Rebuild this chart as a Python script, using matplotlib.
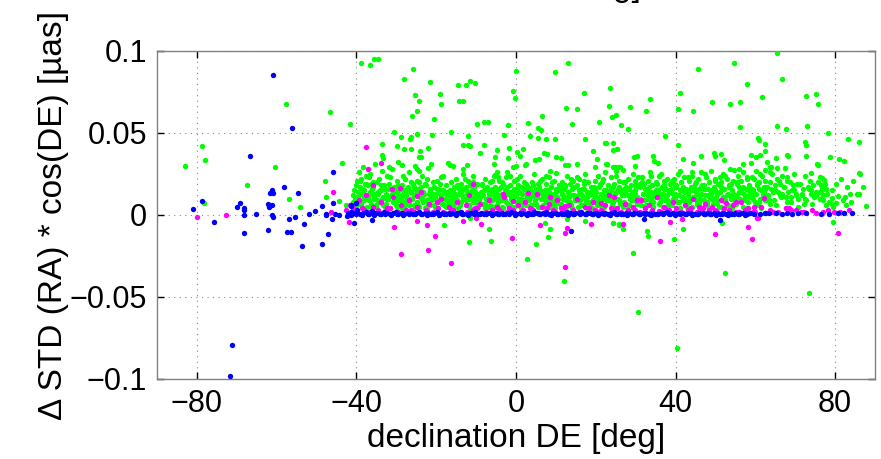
import matplotlib
matplotlib.use("Agg")
import matplotlib.pyplot as plt
import numpy as np

plt.rcParams['font.family'] = ['Liberation Sans', 'DejaVu Sans']

# ---------------- data (declination [deg], value [uas]) ----------------
green_sparse_dec = [-38.8,-36.7,-35.5,-34.5,-57.7,-46.6,-41.6,-78.6,-78,-83.1,-60.5,-43.7,-67.4,-47.8,-47.7,-57,-54.25,-78.3,-44.25,-42.5,
    -25.7,-28.2,-21.5,-25.25,-24.2,-19,-18.8,-14.6,-12.5,-11.5,-10.3,-14.3,-13.25,-24.8,-26.1,-20.6,0.1,-0.7,-0.25,-9.7,
    -7.9,-7,-2.1,3.1,6.4,5.5,6.2,9.75,13,17.1,12.5,15.3,14.1,23.6,23.4,24,25,20.9,
    -30.6,-16.3,-24.9,-28.8,-26.4,-26.5,-21.1,-12,-3,3.6,5.5,7.4,9.8,17.25,22.5,24.3,-29.8,-28,-26.2,-22.1,
    -24.1,-24.3,-23.75,-13.25,-12,-11.5,-8.1,-8.9,-4.75,-1.7,-5.2,-2.1,0.3,1.7,0.9,2.4,2.2,4.75,5.8,6.9,
    7.7,10,11.2,8.4,12.25,13,10,15.25,19.3,20.2,19.7,22.6,24.3,25.5,25.3,-17.1,-16.5,-15.75,-13.3,-12.25,
    -21.3,-22.1,-25.3,-24.9,-29.5,-28.7,-33.7,-33.7,-33.3,-31.8,-5.4,-0.7,-0.1,-5.25,-4.6,-2.3,-1.4,
    26.3,28.5,28.2,33.5,32.7,37.4,22.4,24.3,25.4,29.7,30.4,29.8,34.4,35.7,34.6,24.7,26.1,26.8,22.7,45.7,
    41,40.7,44.3,49.2,40.7,41.8,44.4,46.4,49.75,49.8,51.3,52.25,54.7,57.9,53.75,56.25,61.6,65.5,66.75,56.2,
    65.4,67.75,72.8,75.1,75.7,73,78.2,83.2,86.1,60.75,60.9,62.4,60.1,61.25,58.9,62.4,65.3,67.9,68.1,62.9,
    58.9,57,55.8,54.7,63.75,65.5,72.5,72.75,72.7,75.75,78.75,81,82.25,86.2,86.9,87.75,73.9,80.6,82.4,83.75,
    85.5,82.7,79.1,79.1,76.4,76.7,44.2,62.5,63.9,63.7,67.5,75.4,76.8,77.25,86.1,79.5,79.3,80.2,77.7,
    24.2,25.8,26.9,32.8,33.2,29.3,30.5,39.7,40.25,41.9,51.7,52.5,73.5,79.4,-18,-11.75,-11.5,-6.8,-6.2,2.75,
    5.1,7.25,8.6,7.9,12.1,12.7,17.4,24.25,25.7]
green_sparse_val = [.0929,.0913,.095,.095,.0677,.0628,.0557,.0423,.0335,.0297,.0293,.032,.0185,.021,.0112,.0098,.0047,.0075,.0083,.0061,
    .0892,.0829,.0813,.0734,.0697,.074,.0677,.0791,.0793,.0819,.0803,.0697,.0697,.0634,.0602,.0583,.088,.0754,.0713,.0555,
    .0567,.0567,.0547,.0563,.0605,.0528,.0518,.087,.0925,.0746,.065,.0646,.0553,.0774,.0663,.06,.0612,.0565,
    .0508,.0508,.0496,.0474,.0474,.0462,.0486,.0482,.0488,.0482,.0468,.0462,.0463,.0462,.0439,.0439,.0423,.0402,.0404,.041,
    .0392,.0354,.0354,.0425,.0427,.0421,.0427,.038,.0394,.041,.0354,.0346,.0384,.0404,.0358,.0313,.0305,.0335,.0341,.0378,
    .0374,.0352,.0349,.0268,.0305,.0305,.0258,.0311,.0388,.0343,.0295,.0309,.0295,.0295,.0404,.0315,.0307,.0297,.0279,.0303,
    .0311,.0285,.0297,.0279,.0321,.0307,.0431,.0366,.0346,.0293,.0313,.0293,.0297,.0246,.0232,.026,.024,
    .0551,.0659,.0524,.0709,.0636,.048,.0441,.0394,.04,.0356,.036,.0297,.0358,.0315,.0329,.0291,.0291,.0276,.0309,.0892,
    .0744,.0644,.0636,.0687,.0427,.0341,.0315,.0362,.038,.0358,.0374,.0335,.0929,.0797,.0679,.0691,.0721,.0988,.0829,.0538,
    .0541,.0526,.0727,.0736,.0679,.0541,.0498,.0462,.0447,.047,.0455,.0431,.0354,.0364,.0368,.0392,.0346,.0366,.0358,.0321,
    .0319,.0309,.0279,.0274,.0295,.0287,.0443,.0425,.0358,.0305,.0352,.034,.0327,.025,.0169,.0057,.0258,.0118,.0112,.0126,
    .0126,.0063,.015,.0067,.0183,.015,.0264,.0274,.029,.0264,.0289,.0309,.0224,.0213,.0254,.0049,.0106,.0071,.0061,
    -.0047,-.0059,-.0085,-.0099,-.0126,-.023,-.0591,-.0148,-.0809,-.0085,-.0051,-.0352,-.0478,-.0045,-.0061,-.0166,-.002,-.0085,-.0157,-.0268,
    -.0175,-.0047,-.0085,-.0132,-.04,-.0026,-.0039,-.0051,-.0057]

green_band_dec = [
    -40.8,-40.5,-40.2,-39.9,-39.7,-39.4,-39.1,-38.9,-38.6,-38.4,-38.1,-37.9,-37.6,-37.3,-40.3,-39.5,-38.8,-38.2,-37.5,-37.2,
    -36.9,-36.6,-36.3,-36.1,-35.8,-35.5,-35.3,-35.0,-34.7,-34.4,-34.2,-33.9,-33.6,-33.3,-36.4,-35.6,-34.9,-34.0,-33.4,-36.8,
    -32.9,-32.6,-32.3,-32.1,-31.8,-31.5,-31.2,-31.0,-30.7,-30.4,-30.1,-29.9,-29.6,-29.3,-32.4,-31.6,-30.8,-30.0,-29.5,-32.8,
    -28.9,-28.6,-28.3,-28.0,-27.8,-27.5,-27.2,-27.0,-26.7,-26.4,-26.1,-25.9,-25.6,-25.3,-28.4,-27.6,-26.9,-26.2,-25.5,-28.8,
    -24.9,-24.6,-24.3,-24.1,-23.8,-23.5,-23.3,-23.0,-22.7,-22.4,-22.2,-21.9,-21.6,-21.3,-24.4,-23.7,-22.9,-22.1,-21.5,-24.8,
    -20.9,-20.6,-20.4,-20.1,-19.8,-19.5,-19.3,-19.0,-18.7,-18.4,-18.2,-17.9,-17.6,-17.3,-20.5,-19.7,-18.9,-18.1,-17.5,-20.8,
    -16.9,-16.6,-16.3,-16.1,-15.8,-15.5,-15.2,-15.0,-14.7,-14.4,-14.1,-13.9,-13.6,-13.3,-16.4,-15.6,-14.8,-14.0,-13.5,-16.8,
    -12.9,-12.6,-12.4,-12.1,-11.8,-11.5,-11.3,-11.0,-10.7,-10.4,-10.2,-9.9,-9.6,-9.3,-12.5,-11.7,-10.9,-10.1,-9.5,-12.8,
    -8.9,-8.6,-8.3,-8.1,-7.8,-7.5,-7.2,-7.0,-6.7,-6.4,-6.1,-5.9,-5.6,-5.3,-8.4,-7.6,-6.8,-6.0,-5.5,-8.8,
    -4.9,-4.6,-4.3,-4.1,-3.8,-3.5,-3.2,-3.0,-2.7,-2.4,-2.1,-1.9,-1.6,-1.3,-4.4,-3.6,-2.8,-2.0,-1.5,-4.8,
    -0.9,-0.6,-0.4,-0.1,0.2,0.5,0.7,1.0,1.3,1.6,1.8,2.1,2.4,2.7,-0.5,0.3,1.1,1.9,2.5,-0.8,
    3.1,3.4,3.7,3.9,4.2,4.5,4.8,5.0,5.3,5.6,5.9,6.1,6.4,6.7,3.6,4.3,5.1,5.9,6.5,3.2,
    7.1,7.4,7.6,7.9,8.2,8.5,8.7,9.0,9.3,9.6,9.8,10.1,10.4,10.7,7.5,8.3,9.1,9.9,10.5,7.2,
    11.1,11.4,11.6,11.9,12.2,12.5,12.8,13.0,13.3,13.6,13.9,14.1,14.4,14.7,11.5,12.3,13.1,13.9,14.5,11.2,
    15.1,15.4,15.7,15.9,16.2,16.5,16.8,17.0,17.3,17.6,17.9,18.1,18.4,18.7,15.5,16.3,17.1,17.9,18.5,15.2,
    19.1,19.4,19.7,19.9,20.2,20.5,20.8,21.0,21.3,21.6,21.9,22.1,22.4,22.7,19.5,20.3,21.1,21.9,22.5,19.2,
    23.1,23.4,23.7,23.9,24.2,24.5,24.8,25.0,25.3,25.6,25.9,26.1,26.4,26.7,23.5,24.3,25.1,25.9,26.5,23.2,
    27.1,27.4,27.7,27.9,28.2,28.5,28.8,29.0,29.3,29.6,29.9,30.1,30.4,30.7,27.5,28.3,29.1,29.9,30.5,27.2,
    31.1,31.4,31.7,31.9,32.2,32.5,32.8,33.0,33.3,33.6,33.9,34.1,34.4,34.7,31.5,32.3,33.1,33.9,34.5,31.2,
    35.1,35.4,35.7,35.9,36.2,36.5,36.8,37.0,37.3,37.6,37.9,38.1,38.4,38.7,35.5,36.3,37.1,37.9,38.5,35.2,
    39.1,39.4,39.7,39.9,40.2,40.5,40.8,41.0,41.3,41.6,41.9,42.1,42.4,42.7,39.5,40.3,41.1,41.9,42.5,39.2,
    43.1,43.4,43.7,43.9,44.2,44.5,44.8,45.0,45.3,45.6,45.9,46.1,46.4,46.7,43.5,44.3,45.1,45.9,46.5,43.2,
    47.1,47.4,47.7,47.9,48.2,48.5,48.8,49.0,49.3,49.6,49.9,50.1,50.4,50.7,47.5,48.3,49.1,49.9,50.5,47.2,
    51.1,51.4,51.7,51.9,52.2,52.5,52.8,53.0,53.3,53.6,53.9,54.1,54.4,54.7,51.5,52.3,53.1,53.9,54.5,51.2,
    55.1,55.4,55.7,55.9,56.2,56.5,56.8,57.0,57.3,57.6,57.9,58.1,58.4,58.7,55.5,56.3,57.1,57.9,58.5,55.2,
    59.1,59.4,59.7,59.9,60.2,60.5,60.8,61.0,61.3,61.6,61.9,62.1,62.4,62.7,59.5,60.3,61.1,61.9,62.5,59.2,
    63.2,63.6,63.9,64.3,64.7,65.0,65.4,65.8,66.1,66.5,66.8,63.8,64.9,65.9,66.6,
    67.2,67.6,67.9,68.3,68.7,69.0,69.4,69.8,70.1,70.5,70.8,68.0,69.2,70.3,
    71.2,71.6,72.0,72.4,72.8,73.2,73.6,74.0,74.4,74.8,72.2,73.9,
    75.2,75.7,76.1,76.6,77.0,77.5,78.0,78.5,76.3,77.8,
    80.2,81.4,83.0,84.5,86.0,81.9,84.0]
green_band_val = [
    .008,.015,.004,.021,.011,.026,.017,.006,.013,.029,.009,.019,.024,.005,.010,.007,.022,.015,.012,.018,
    .012,.025,.007,.016,.020,.010,.031,.005,.014,.022,.008,.018,.027,.011,.019,.013,.009,.015,.006,.023,
    .016,.007,.024,.011,.019,.004,.013,.028,.009,.017,.006,.021,.012,.015,.010,.023,.014,.008,.018,.005,
    .009,.018,.013,.005,.022,.011,.016,.007,.026,.014,.010,.019,.006,.012,.024,.015,.008,.020,.017,.011,
    .014,.006,.020,.011,.017,.024,.008,.013,.018,.005,.022,.010,.015,.009,.027,.012,.019,.007,.016,.021,
    .010,.017,.005,.013,.021,.008,.015,.019,.011,.024,.007,.014,.018,.009,.012,.016,.023,.006,.013,.020,
    .007,.015,.020,.011,.004,.017,.013,.022,.009,.016,.006,.019,.012,.025,.014,.010,.018,.008,.015,.012,
    .016,.009,.013,.021,.006,.018,.011,.015,.024,.008,.014,.019,.005,.012,.017,.010,.020,.013,.007,.022,
    .011,.019,.007,.015,.022,.010,.017,.005,.013,.020,.009,.016,.024,.012,.018,.006,.014,.021,.010,.013,
    .014,.008,.021,.012,.017,.005,.019,.010,.015,.023,.007,.013,.018,.011,.016,.020,.009,.014,.006,.026,
    .009,.016,.021,.012,.006,.018,.014,.024,.010,.017,.007,.020,.013,.015,.011,.022,.008,.016,.019,.012,
    .017,.011,.006,.020,.014,.025,.009,.016,.012,.019,.005,.015,.022,.010,.013,.018,.007,.021,.014,.011,
    .012,.019,.008,.015,.023,.010,.017,.006,.013,.021,.009,.016,.011,.018,.024,.014,.020,.007,.015,.012,
    .015,.007,.020,.012,.017,.009,.024,.014,.011,.019,.006,.016,.021,.010,.013,.018,.008,.022,.012,.017,
    .010,.018,.013,.022,.006,.016,.011,.019,.025,.008,.014,.020,.012,.017,.009,.015,.021,.011,.007,.023,
    .014,.009,.021,.016,.011,.024,.007,.018,.013,.020,.010,.015,.026,.012,.017,.006,.019,.022,.009,.013,
    .018,.011,.015,.023,.008,.019,.013,.027,.010,.016,.021,.007,.014,.020,.012,.017,.024,.009,.015,.011,
    .012,.020,.007,.016,.022,.010,.018,.013,.025,.009,.015,.019,.011,.023,.017,.006,.014,.021,.010,.016,
    .017,.009,.023,.013,.019,.006,.015,.021,.011,.026,.014,.018,.008,.012,.020,.016,.010,.024,.013,.019,
    .011,.019,.015,.024,.008,.017,.013,.021,.010,.016,.022,.007,.014,.019,.012,.025,.018,.009,.015,.020,
    .016,.010,.022,.013,.018,.025,.008,.015,.020,.011,.017,.023,.006,.014,.019,.012,.027,.009,.016,.021,
    .013,.021,.009,.017,.024,.011,.019,.014,.007,.022,.016,.012,.026,.018,.010,.015,.020,.008,.013,.023,
    .018,.012,.023,.008,.016,.020,.013,.027,.010,.017,.022,.014,.009,.019,.025,.011,.015,.021,.007,.016,
    .014,.020,.010,.025,.016,.008,.022,.012,.018,.028,.011,.015,.021,.009,.017,.024,.013,.019,.006,.023,
    .011,.019,.024,.014,.009,.021,.017,.026,.012,.016,.022,.008,.018,.013,.020,.015,.010,.023,.017,.012,
    .016,.010,.022,.013,.027,.018,.008,.020,.015,.024,.011,.017,.021,.009,.014,.019,.025,.012,.016,.023,
    .012,.020,.016,.025,.009,.018,.022,.014,.019,.011,.024,.007,.015,.021,.013,
    .017,.011,.023,.014,.020,.008,.018,.025,.013,.019,.010,.021,.015,.012,
    .019,.012,.016,.024,.009,.017,.021,.013,.018,.011,.007,.015,
    .014,.020,.010,.017,.012,.019,.013,.008,.023,.016,
    .019,.022,.017,.021,.013,.009,.008]

# denser core of the green band
green_core_dec = [
    -40.85,-40.55,-40.2,-39.85,-39.55,-39.2,-38.85,-38.55,-38.2,-37.85,-37.55,-37.2,
    -36.85,-36.55,-36.2,-35.85,-35.55,-35.2,-34.85,-34.55,-34.2,-33.85,-33.55,-33.2,
    -32.85,-32.55,-32.2,-31.85,-31.55,-31.2,-30.85,-30.55,-30.2,-29.85,-29.55,-29.2,
    -28.85,-28.55,-28.2,-27.85,-27.55,-27.2,-26.85,-26.55,-26.2,-25.85,-25.55,-25.2,
    -24.85,-24.55,-24.2,-23.85,-23.55,-23.2,-22.85,-22.55,-22.2,-21.85,-21.55,-21.2,
    -20.85,-20.55,-20.2,-19.85,-19.55,-19.2,-18.85,-18.55,-18.2,-17.85,-17.55,-17.2,
    -16.85,-16.55,-16.2,-15.85,-15.55,-15.2,-14.85,-14.55,-14.2,-13.85,-13.55,-13.2,
    -12.85,-12.55,-12.2,-11.85,-11.55,-11.2,-10.85,-10.55,-10.2,-9.85,-9.55,-9.2,
    -8.85,-8.55,-8.2,-7.85,-7.55,-7.2,-6.85,-6.55,-6.2,-5.85,-5.55,-5.2,
    -4.85,-4.55,-4.2,-3.85,-3.55,-3.2,-2.85,-2.55,-2.2,-1.85,-1.55,-1.2,
    -0.85,-0.55,-0.2,0.15,0.45,0.8,1.15,1.45,1.8,2.15,2.45,2.8,
    3.15,3.45,3.8,4.15,4.45,4.8,5.15,5.45,5.8,6.15,6.45,6.8,
    7.15,7.45,7.8,8.15,8.45,8.8,9.15,9.45,9.8,10.15,10.45,10.8,
    11.15,11.45,11.8,12.15,12.45,12.8,13.15,13.45,13.8,14.15,14.45,14.8,
    15.15,15.45,15.8,16.15,16.45,16.8,17.15,17.45,17.8,18.15,18.45,18.8,
    19.15,19.45,19.8,20.15,20.45,20.8,21.15,21.45,21.8,22.15,22.45,22.8,
    23.15,23.45,23.8,24.15,24.45,24.8,25.15,25.45,25.8,26.15,26.45,26.8,
    27.15,27.45,27.8,28.15,28.45,28.8,29.15,29.45,29.8,30.15,30.45,30.8,
    31.15,31.45,31.8,32.15,32.45,32.8,33.15,33.45,33.8,34.15,34.45,34.8,
    35.15,35.45,35.8,36.15,36.45,36.8,37.15,37.45,37.8,38.15,38.45,38.8,
    39.15,39.45,39.8,40.15,40.45,40.8,41.15,41.45,41.8,42.15,42.45,42.8,
    43.15,43.45,43.8,44.15,44.45,44.8,45.15,45.45,45.8,46.15,46.45,46.8,
    47.15,47.45,47.8,48.15,48.45,48.8,49.15,49.45,49.8,50.15,50.45,50.8,
    51.15,51.45,51.8,52.15,52.45,52.8,53.15,53.45,53.8,54.15,54.45,54.8,
    55.15,55.45,55.8,56.15,56.45,56.8,57.15,57.45,57.8,58.15,58.45,58.8,
    59.15,59.45,59.8,60.15,60.45,60.8,61.15,61.45,61.8,62.15,62.45,62.8,
    63.5,64.4,65.3,66.2,67.1,68.0,68.9,69.8,70.7,71.6,72.5,73.4,74.3,75.2,76.1,77.0]
green_core_val = [
    .012,.005,.018,.009,.014,.021,.007,.016,.011,.004,.019,.010,
    .009,.014,.004,.017,.011,.006,.020,.013,.008,.015,.010,.018,
    .006,.013,.010,.016,.004,.012,.008,.017,.014,.005,.011,.009,
    .011,.004,.015,.008,.013,.017,.006,.010,.014,.003,.012,.016,
    .008,.016,.005,.012,.010,.014,.004,.018,.009,.013,.006,.011,
    .013,.006,.011,.004,.016,.009,.012,.007,.015,.010,.005,.014,
    .005,.012,.009,.015,.007,.011,.017,.004,.013,.008,.016,.010,
    .010,.015,.006,.012,.004,.014,.008,.017,.011,.005,.013,.009,
    .014,.007,.012,.004,.016,.009,.011,.006,.015,.013,.005,.017,
    .006,.011,.016,.009,.013,.004,.012,.008,.017,.005,.014,.010,
    .012,.005,.014,.008,.017,.010,.004,.013,.009,.016,.006,.011,
    .009,.016,.004,.012,.007,.014,.011,.005,.017,.010,.013,.006,
    .015,.008,.011,.005,.013,.017,.009,.012,.004,.014,.010,.016,
    .007,.013,.010,.016,.005,.011,.014,.008,.012,.004,.017,.009,
    .011,.005,.015,.009,.012,.006,.016,.010,.004,.013,.008,.014,
    .004,.012,.008,.014,.010,.017,.006,.013,.011,.005,.015,.009,
    .013,.009,.016,.006,.011,.004,.014,.010,.017,.008,.012,.005,
    .008,.014,.005,.012,.016,.009,.011,.004,.013,.017,.007,.010,
    .010,.006,.013,.009,.004,.015,.012,.017,.008,.011,.005,.014,
    .015,.011,.007,.013,.010,.005,.016,.009,.012,.004,.014,.008,
    .006,.013,.010,.017,.008,.012,.004,.015,.011,.014,.009,.005,
    .012,.008,.015,.005,.011,.016,.009,.013,.006,.010,.017,.004,
    .009,.016,.006,.012,.004,.014,.010,.007,.015,.011,.013,.005,
    .014,.005,.011,.016,.009,.012,.006,.017,.010,.004,.013,.008,
    .007,.012,.017,.010,.014,.005,.013,.009,.004,.015,.011,.016,
    .011,.015,.008,.013,.006,.016,.010,.004,.012,.014,.009,.017,
    .009,.014,.006,.012,.017,.008,.011,.015,.005,.013,.010,.016,.007,.012,.014,.009]

magenta_dec = [
    -42.5,-41.6,-40.4,-39.3,-38.7,-37.6,-36.8,-35.9,-34.7,-33.8,
    -32.9,-31.7,-30.8,-29.6,-28.9,-27.7,-26.8,-25.6,-24.9,-23.7,
    -22.6,-21.9,-20.7,-19.6,-18.8,-17.7,-16.9,-15.8,-14.7,-13.8,
    -12.6,-11.9,-10.8,-9.7,-8.9,-7.6,-6.8,-5.9,-4.7,-3.8,
    -2.9,-1.7,-0.8,0.4,1.2,2.3,3.4,4.2,5.3,6.4,
    7.2,8.3,9.4,10.2,11.3,12.4,13.2,14.3,15.4,16.2,
    17.3,18.4,19.2,20.3,21.4,22.2,23.3,24.4,25.2,26.3,
    27.4,28.2,29.3,30.4,31.2,32.3,33.4,34.2,35.3,36.4,
    37.2,38.3,39.4,40.2,41.3,42.4,43.2,44.3,45.4,46.2,
    47.3,48.4,49.2,50.3,51.4,52.2,53.3,54.4,55.2,56.3,
    57.4,58.2,59.3,61.5,63.8,65.7,67.6,70.2,72.3,74.1,
    76.9,78.3,81.2,83.5,
    -41.1,-39.8,-38.2,-36.3,-34.2,-32.4,-30.2,-28.3,-26.3,-24.2,
    -22.2,-20.3,-18.2,-16.3,-14.2,-12.2,-10.3,-8.2,-6.3,-4.2,
    -2.3,-0.2,1.8,3.8,5.8,7.8,9.8,11.8,13.8,15.8,
    17.8,19.8,21.8,23.8,25.8,27.8,29.8,31.8,33.8,35.8,
    37.8,39.8,41.8,43.8,45.8,47.8,49.8,51.8,53.8,55.8,
    57.8,59.8,62.6,64.5,68.9,71.4,75.3,79.8,
    3.1,8.5,24.6,31.25,12.25,21.4,45.8,46.8,52.7,55.2,
    59.75,62.25,67.7,68.5,60.6,-10.7,-31.1,-29,-24.8,-19.8,
    -3.2,-0.7,-37.5,-33.9,-37.2,-35.75,-46,-80,-72.75,-46.3,
    -41.9,-40.8,
    -30.6,-28.8,-24.8,-22.4,-22.1,-20.25,-16.4,-13.2,-10.1,-8.7,
    -1.1,6,12.25,12.75,12.4,18.8,26.8,36.1,38.7,41.6,
    49.8,58.25,59.25,60.4,80.7]
magenta_val = [
    .003,.006,.002,.009,.004,.012,.002,.005,.003,.008,
    .001,.004,.011,.002,.006,.003,.009,.002,.005,.014,
    .003,.007,.002,.004,.010,.001,.005,.003,.008,.002,
    .006,.012,.003,.004,.007,.002,.009,.003,.005,.002,
    .011,.004,.003,.006,.002,.008,.004,.003,.013,.005,
    .002,.007,.003,.009,.004,.002,.006,.003,.010,.002,
    .005,.004,.008,.002,.003,.006,.012,.003,.004,.002,
    .007,.003,.005,.009,.002,.004,.006,.003,.011,.002,
    .005,.003,.008,.004,.002,.006,.003,.010,.002,.004,
    .007,.003,.005,.002,.009,.004,.003,.006,.002,.008,
    .003,.004,.002,.005,.003,.002,.004,.003,.002,.003,
    .002,.003,.002,.003,
    .002,.001,.003,.002,.0015,.004,.002,.001,.003,.002,
    .0025,.001,.002,.003,.0015,.002,.004,.001,.002,.003,
    .002,.0015,.003,.002,.001,.004,.002,.003,.0015,.002,
    .001,.003,.002,.004,.0015,.002,.003,.001,.002,.0025,
    .003,.002,.001,.004,.002,.0015,.003,.002,.001,.002,
    .003,.002,.0015,.002,.003,.002,.001,.002,
    .0132,.0112,.0107,.0091,.0055,.0071,.005,.0041,.0071,.0081,
    .005,.0102,.0045,.0045,-.002,.0191,.0159,.0163,.0116,.0077,
    .0126,.0085,.0413,.0319,.0279,.0183,.0142,-.0012,.0002,.002,
    -.0041,.0041,
    -.0073,-.0238,-.0035,-.0063,-.0213,-.0126,-.0291,-.0035,-.002,-.0053,
    -.0138,-.0063,-.011,-.0077,-.0319,-.0053,-.0055,-.016,-.0045,-.0024,
    -.0118,-.0075,-.0148,-.0018,-.0108]

blue_dec = [
    -42.0,-41.3,-40.6,-39.8,-39.1,-38.3,-37.6,-36.9,-36.1,-35.4,
    -34.6,-33.9,-33.2,-32.4,-31.7,-30.9,-30.2,-29.5,-28.7,-28.0,
    -27.2,-26.5,-25.8,-25.0,-24.3,-23.5,-22.8,-22.1,-21.3,-20.6,
    -19.8,-19.1,-18.4,-17.6,-16.9,-16.1,-15.4,-14.7,-13.9,-13.2,
    -12.4,-11.7,-11.0,-10.2,-9.5,-8.7,-8.0,-7.3,-6.5,-5.8,
    -5.0,-4.3,-3.6,-2.8,-2.1,-1.3,-0.6,0.1,0.9,1.6,
    2.4,3.1,3.8,4.6,5.3,6.1,6.8,7.5,8.3,9.0,
    9.8,10.5,11.2,12.0,12.7,13.5,14.2,14.9,15.7,16.4,
    17.2,17.9,18.6,19.4,20.1,20.9,21.6,22.3,23.1,23.8,
    24.6,25.3,26.0,26.8,27.5,28.3,29.0,29.7,30.5,31.2,
    32.0,32.7,33.4,34.2,34.9,35.7,36.4,37.1,37.9,38.6,
    39.4,40.1,40.8,41.6,42.3,43.1,43.8,44.5,45.3,46.0,
    46.8,47.5,48.2,49.0,49.7,50.5,51.2,51.9,52.7,53.4,
    54.2,54.9,55.6,56.4,57.1,57.9,58.6,59.6,61.2,62.3,
    63.4,65.25,66.75,68.0,69.25,70.6,72.75,76.5,78.5,80.6,
    82.25,84.25,
    -41.7,-40.2,-38.7,-37.2,-35.7,-34.2,-32.8,-31.3,-29.8,-28.3,
    -26.8,-25.4,-23.9,-22.4,-20.9,-19.4,-18.0,-16.5,-15.0,-13.5,
    -12.0,-10.6,-9.1,-7.6,-6.1,-4.6,-3.2,-1.7,-0.2,1.3,
    2.8,4.2,5.7,7.2,8.7,10.2,11.6,13.1,14.6,16.1,
    17.6,19.0,20.5,22.0,23.5,25.0,26.4,27.9,29.4,30.9,
    32.4,33.8,35.3,36.8,38.3,39.8,41.2,42.7,44.2,45.7,
    47.2,48.6,50.1,51.6,53.1,54.6,56.0,57.5,
    -60.8,-56.2,-66.75,-46,-58.25,-61.2,-61.6,-61,-54.6,-78.75,
    -81,-69.1,-69.9,-68.2,-68.2,-68.1,-68.1,-62.25,-61.1,-61.8,
    -61.25,-60.9,-62.1,-48.6,-45.8,-41.25,-40.2,-75.6,-65.1,-57,
    -57.5,-56.3,-55.3,-53.2,-53.75,-52,-50.3,-47.6,-47.6,-47.25,
    -48.7,-46.1,-45.3,-44.3,-42.4,-41.25,-41.25,-40.7,-71.1,-71.6,
    13.75,51.2,32.1,-40.1,-36.1]
blue_val = [
    .0015,.002,.001,.003,.0005,.0012,.0018,.0008,.0022,.001,
    .0012,.0006,.0016,.001,.0004,.0014,.002,.0008,.0012,.0005,
    .001,.0015,.0007,.0012,.0018,.0006,.001,.0014,.0004,.0011,
    .0016,.0008,.0012,.0005,.001,.0015,.0007,.0012,.0018,.0009,
    .0006,.0013,.001,.0017,.0008,.0012,.0005,.0011,.0015,.0007,
    .0012,.0009,.0014,.0006,.001,.0018,.0012,.0008,.0015,.001,
    .0006,.0013,.0009,.0016,.0011,.0005,.0012,.0019,.0008,.0011,
    .0014,.0007,.0012,.0009,.0016,.0011,.0005,.0013,.001,.0017,
    .0008,.0012,.0015,.0006,.0011,.0009,.0014,.001,.0005,.0012,
    .0016,.0009,.0012,.0007,.0011,.0014,.0006,.001,.0013,.0008,
    .0011,.0015,.0007,.0012,.0009,.0005,.0013,.001,.0016,.0008,
    .0012,.0006,.001,.0014,.0008,.0011,.0015,.0007,.0009,.0012,
    .001,.0005,.0012,.0008,.0013,.001,.0006,.0011,.0009,.0014,
    .0008,.0012,.0006,.001,.0013,.0007,.0011,.0009,.0008,.0012,
    .001,.0013,.0009,.0011,.0008,.0012,.001,.0009,.0007,.0011,
    .0012,.0011,
    .0004,.0009,.0002,.0007,.0003,.0008,.0005,.0002,.0006,.0003,
    .0007,.0004,.0009,.0002,.0006,.0003,.0008,.0005,.0002,.0007,
    .0003,.0006,.0009,.0004,.0002,.0007,.0005,.0008,.0003,.0006,
    .0002,.0007,.0004,.0009,.0003,.0006,.0008,.0002,.0005,.0007,
    .0004,.0009,.0003,.0006,.0002,.0008,.0005,.0003,.0007,.0004,
    .0006,.0002,.0008,.0004,.0007,.0003,.0009,.0005,.0002,.0006,
    .0004,.0008,.0003,.0006,.0002,.0007,.0005,.0003,
    .0854,.0528,.036,.026,.017,.015,.0132,.0136,.0136,.0085,
    .0038,.0072,.0047,.0045,.0029,-.0002,-.011,.0066,.0064,.0046,
    .0002,-.0014,-.0091,.0052,.0073,.0061,.0073,-.0043,.0006,-.0026,
    -.0106,-.0106,-.0014,-.0057,-.0191,.0006,.0026,.0008,-.0002,-.0114,
    -.0179,-.0024,.0008,.0002,-.0006,.0002,.0053,-.0049,-.0793,-.0982,
    -.0099,-.003,-.0024,.0071,-.003]

x_ticks = [-80, -40, 0, 40, 80]
y_ticks = [-0.1, -0.05, 0, 0.05, 0.1]
y_ticklabels = ['\u22120.1', '\u22120.05', '0', '0.05', '0.1']
x_ticklabels = ['\u221280', '\u221240', '0', '40', '80']

# ---------------- figure ----------------
fig = plt.figure(figsize=(8.81, 4.59), dpi=100)
ax = fig.add_axes([157/881, 1 - 379/459, (875-157)/881, (379-51)/459])

ms = 15
ax.scatter(green_sparse_dec + green_band_dec + green_core_dec,
           green_sparse_val + green_band_val + green_core_val,
           s=ms, c='#00ff00', linewidths=0, zorder=3)
ax.scatter(magenta_dec, magenta_val, s=ms, c='#ff00ff', linewidths=0, zorder=4)
ax.scatter(blue_dec, blue_val, s=ms, c='#0000ff', linewidths=0, zorder=5)

ax.set_xlim(-90, 90)
ax.set_ylim(-0.1, 0.1)
ax.set_xticks(x_ticks)
ax.set_xticklabels(x_ticklabels)
ax.set_yticks(y_ticks)
ax.set_yticklabels(y_ticklabels)
ax.grid(True, linestyle=(0, (1, 4)), color='#888888', linewidth=0.8)
ax.set_axisbelow(True)
ax.tick_params(direction='in', length=5, width=1, top=True, right=True,
               labelsize=22, color='black', pad=7)
for s in ax.spines.values():
    s.set_color('#808080')
    s.set_linewidth(1.0)

ax.set_xlabel('declination DE [deg]', fontsize=24, labelpad=3)
ax.set_ylabel('\u0394 STD (RA) * cos(DE) [\u00b5as]', fontsize=24, labelpad=1)

# cropped title above the figure (only descenders visible, as in the reference)
fig.text(641/881, 1 + 4/459, 'deg]', ha='right', va='baseline', fontsize=24)

fig.savefig('out.png', dpi=100)
